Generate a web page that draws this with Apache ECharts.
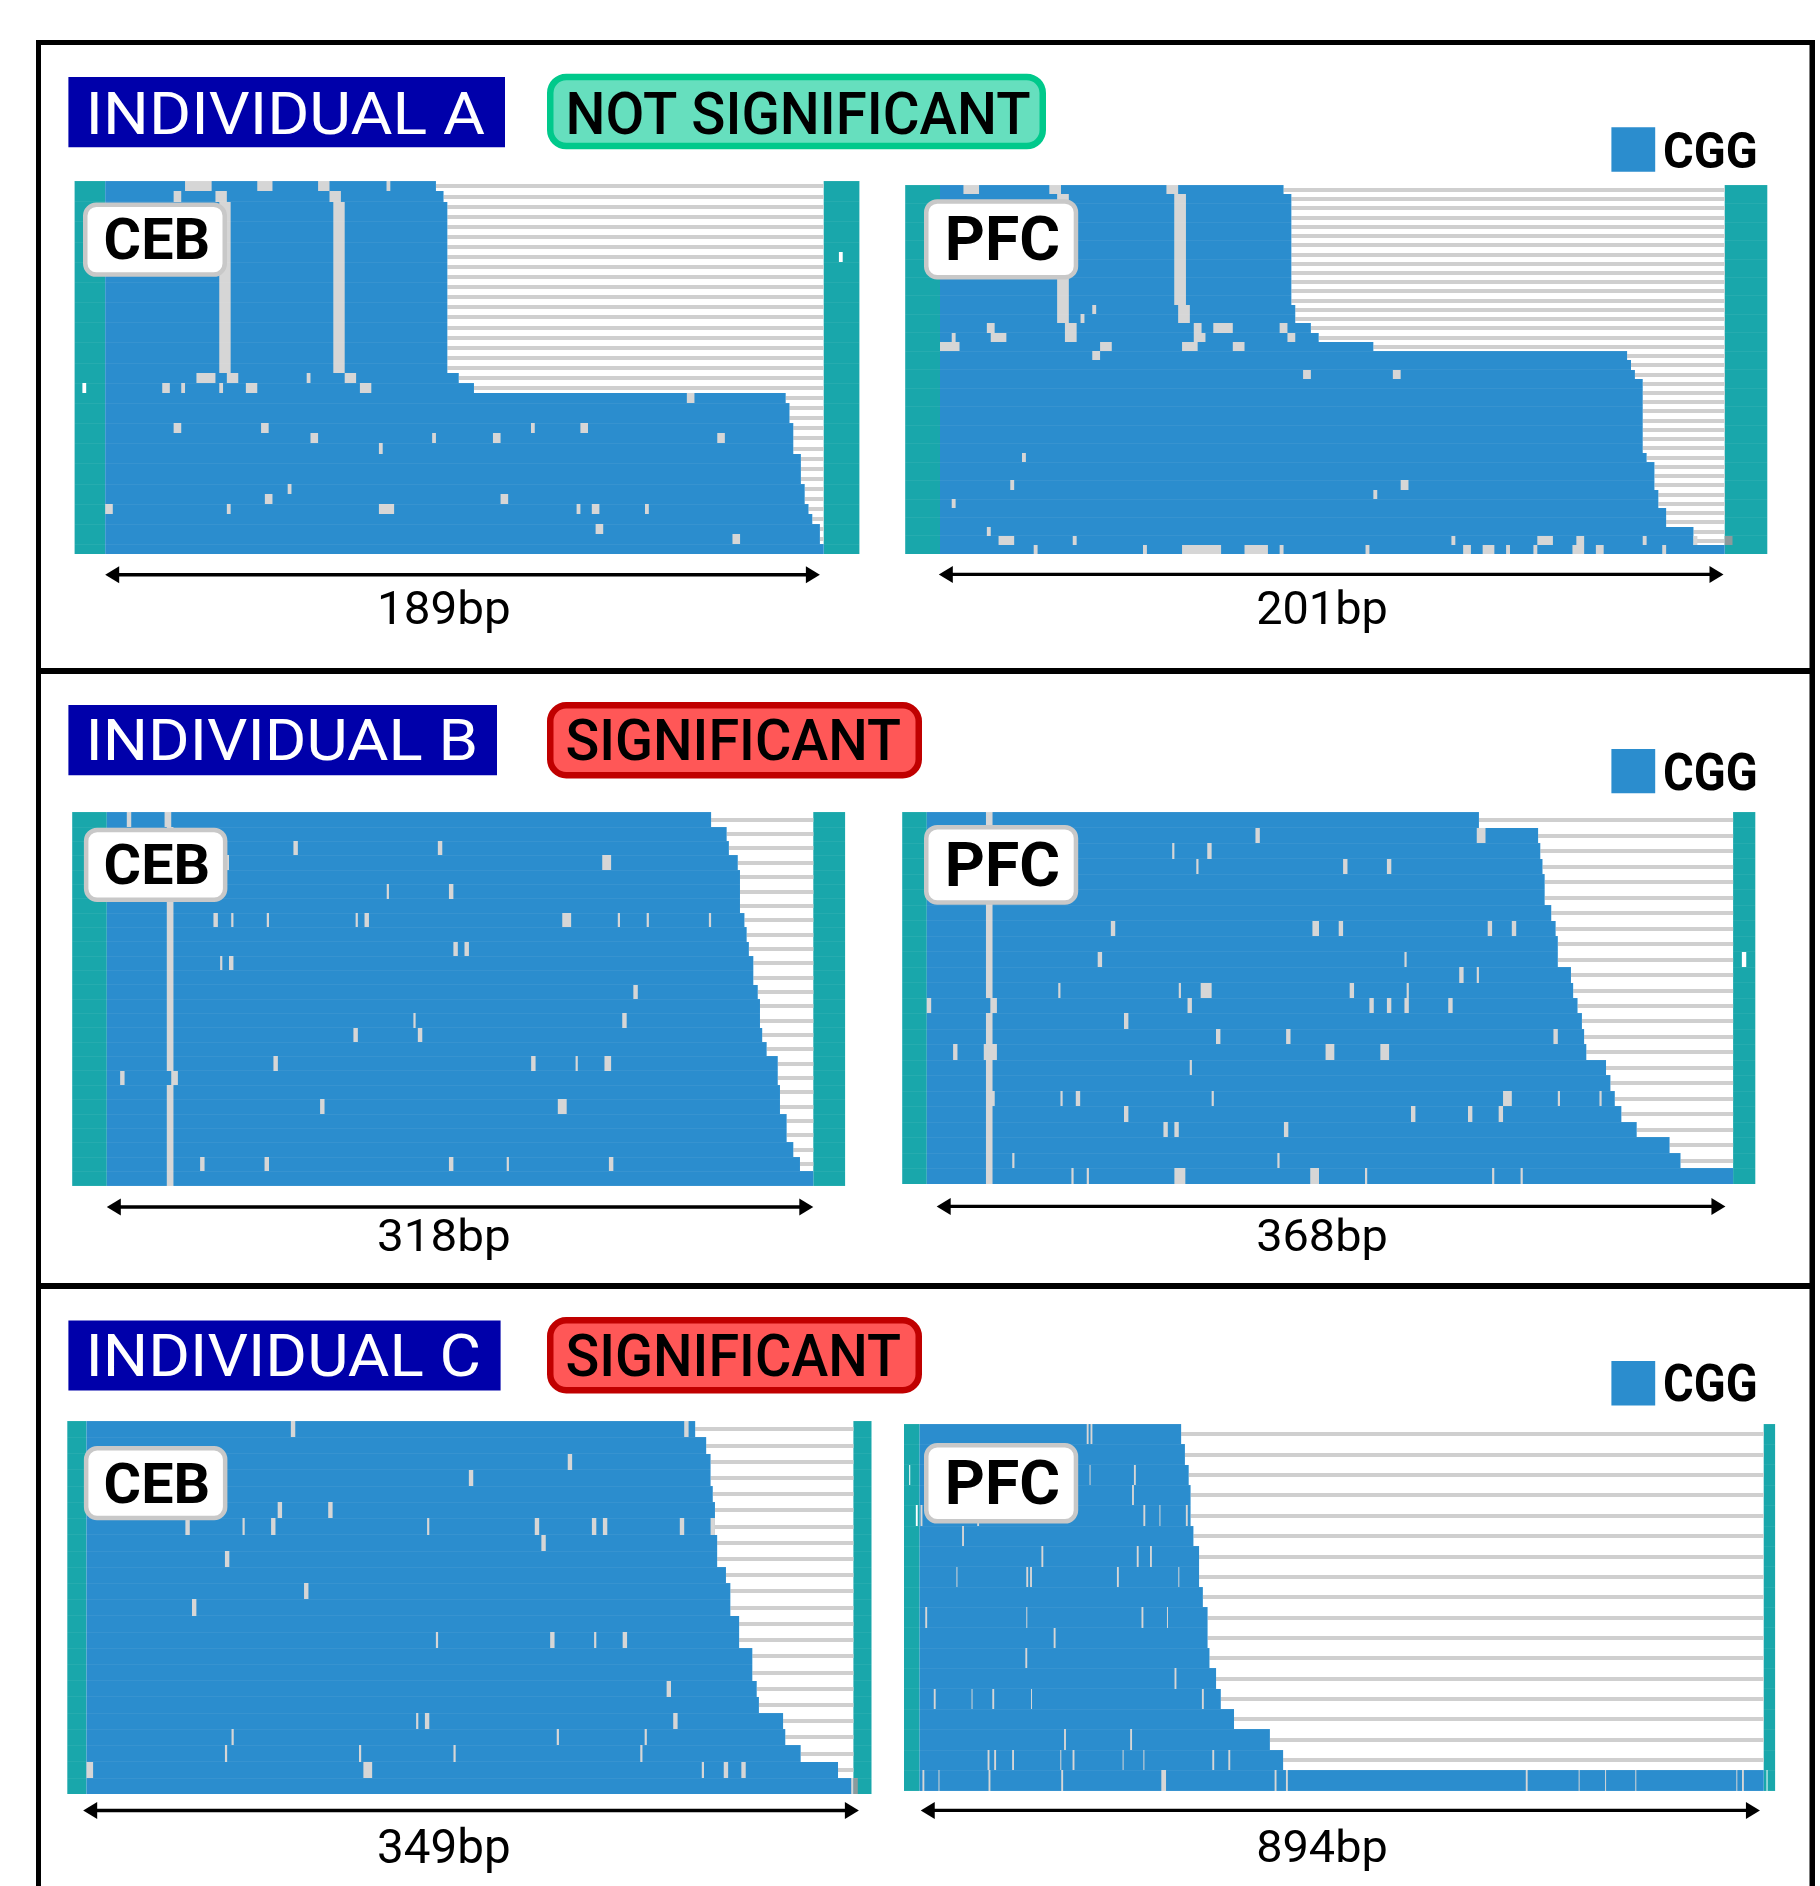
<!DOCTYPE html>
<html>
<head>
<meta charset="utf-8">
<style>html,body{margin:0;padding:0;background:#fff}#c{width:1820px;height:1886px}</style>
<script src="https://cdn.jsdelivr.net/npm/echarts@6/dist/echarts.min.js"></script>
</head>
<body>
<div id="c"></div>
<script>
// ---- read-repeat lengths, one value per read row (bp of CGG array) ----
const A_CEB_ends = [87,89,90,90,90,90,90,90,90,90,90,90,90,90,90,90,90,90,90,93,97,179,180,180,181,181,181,183,183,183,184,184,185,186,188,188,189];
const A_PFC_ends = [88,90,90,90,90,90,90,90,90,90,90,90,90,91,91,95,97,111,176,177,178,180,180,180,180,180,180,180,180,181,183,183,183,184,184,186,186,193,193,201];
const B_CEB_ends = [272,279,280,284,285,285,285,287,288,289,291,291,293,294,294,295,297,302,302,303,303,306,306,309,312,318];
const B_PFC_ends = [252,279,280,281,282,282,285,287,288,288,294,295,297,299,300,301,310,312,314,317,324,339,344,368];
const C_CEB_ends = [277,282,284,284,285,286,286,287,287,291,293,293,297,297,303,303,305,306,317,318,325,342,349];
const C_PFC_ends = [277,281,285,287,287,290,296,296,300,305,305,307,314,319,333,371,385,894];

// ---- total reference lengths (bp) and their labels ----
const repeatLengths = [189,201,318,368,349,894];
const lengthLabels = ['189bp','201bp','318bp','368bp','349bp','894bp'];
const headers = ['INDIVIDUAL A','INDIVIDUAL B','INDIVIDUAL C'];
const verdicts = ['NOT SIGNIFICANT','SIGNIFICANT','SIGNIFICANT'];
const tissues = ['CEB','PFC'];
const legendName = 'CGG';

// ---- interruptions: [row, start bp, length bp, kind] kind 0 grey, 1 white, 2 dark ----
const A_CEB_gaps = [
[0,21,7],[0,40,4],[0,56,3],[0,74,1],[1,18,2],[1,29,3],[1,59,3],
[2,30,3],[3,30,3],[4,30,3],[5,30,3],[6,30,3],[7,30,3],[8,30,3],[9,30,3],[10,30,3],[11,30,3],[12,30,3],[13,30,3],[14,30,3],[15,30,3],[16,30,3],[17,30,3],[18,30,3],
[2,60,3],[3,60,3],[4,60,3],[5,60,3],[6,60,3],[7,60,3],[8,60,3],[9,60,3],[10,60,3],[11,60,3],[12,60,3],[13,60,3],[14,60,3],[15,60,3],[16,60,3],[17,60,3],[18,60,3],
[19,24,5],[19,32,3],[19,53,1],[19,63,3],[20,15,2],[20,20,1],[20,30,1],[20,37,3],[20,67,3],[20,-6,1,1],[7,193,1,1],
[21,153,2],[24,18,2],[24,41,2],[24,112,1],[24,125,2],[25,54,2],[25,86,1],[25,102,2],[25,161,2],[26,72,1],
[30,48,1],[31,42,2],[31,104,2],[32,0,2],[32,32,1],[32,72,4],[32,124,1],[32,128,2],[32,142,1],[34,129,2],[35,165,2]];
const A_PFC_gaps = [
[0,6,4],[0,28,3],[0,58,3],
[1,30,3],[2,30,3],[3,30,3],[4,30,3],[5,30,3],[6,30,3],[7,30,3],[8,30,3],[9,30,3],[10,30,3],[11,30,3],[12,30,3],[13,30,3],[14,30,3],
[1,60,3],[2,60,3],[3,60,3],[4,60,3],[5,60,3],[6,60,3],[7,60,3],[8,60,3],[9,60,3],[10,60,3],[11,60,3],[12,60,3],[13,61,3],[14,61,3],
[13,39,1],[14,36,1],[15,12,2],[15,32,3],[15,65,2],[15,70,5],[15,87,2],[16,3,1],[16,13,4],[16,32,3],[16,65,3],[16,89,2],
[17,0,5],[17,41,3],[17,62,4],[17,75,3],[18,39,2],[20,93,2],[20,116,2],[29,21,1],[32,18,1],[32,118,2],[33,111,1],[34,3,1],[37,12,1],
[38,15,4],[38,34,1],[38,131,1],[38,153,4],[38,163,2],[38,180,1],[38,193,1],[38,201,2,2],
[39,24,1],[39,52,1],[39,62,10],[39,78,6],[39,87,1],[39,109,1],[39,134,2],[39,139,3],[39,145,1],[39,152,1],[39,162,3],[39,168,2],[39,185,1]];
const B_CEB_gaps = [
[0,9,2],[0,26,3],[1,27,3],[2,27,3],[3,27,3],[4,27,3],[5,27,3],[6,27,3],[7,27,3],[8,27,3],[9,27,3],[10,27,3],[11,27,3],[12,27,3],[13,27,3],[14,27,3],[15,27,3],[16,27,3],[17,27,3],
[18,29,3],[19,27,3],[20,27,3],[21,27,3],[22,27,3],[23,27,3],[24,27,3],[25,27,3],
[2,84,2],[2,149,2],[3,54,1],[3,223,4],[5,126,1],[5,154,2],[7,48,2],[7,56,1],[7,72,1],[7,112,1],[7,116,2],[7,205,4],[7,230,1],[7,243,1],[7,271,1],
[9,156,2],[9,161,2],[10,51,1],[10,55,2],[12,237,2],[14,138,1],[14,232,2],[15,111,2],[15,140,2],[17,75,2],[17,191,2],[17,211,1],[17,224,3],[18,6,2],
[20,96,2],[20,203,4],[24,42,2],[24,71,2],[24,154,2],[24,180,1],[24,226,2]];
const B_PFC_gaps = [
[0,27,3],[1,27,3],[2,27,3],[3,27,3],[4,27,3],[5,27,3],[6,27,3],[7,27,3],[8,27,3],[9,27,3],[10,27,3],[11,27,3],[12,29,3],[13,27,3],[14,27,3],[15,26,6],[16,27,3],[17,27,3],[18,27,4],[19,27,3],[20,27,3],[21,27,3],[22,27,3],[23,27,3],
[1,150,2],[1,251,4],[2,112,1],[2,128,2],[3,123,1],[3,190,2],[3,210,2],[7,84,2],[7,176,3],[7,188,2],[7,256,2],[7,267,2],[9,78,2],[9,218,1],[9,372,2,1],
[10,243,2],[10,251,1],[11,60,1],[11,115,1],[11,125,5],[11,193,2],[11,219,1],[12,0,2],[12,119,2],[12,202,2],[12,210,2],[12,218,2],[12,238,2],[13,90,2],
[14,132,2],[14,164,2],[14,286,2],[15,12,2],[15,182,4],[15,207,4],[16,120,1],[18,61,1],[18,68,2],[18,130,1],[18,263,4],[18,288,1],[18,307,1],
[19,90,2],[19,221,2],[19,247,2],[19,261,2],[20,108,2],[20,113,2],[20,163,2],[22,39,1],[22,160,1],[23,66,1],[23,73,1],[23,113,5],[23,175,4],[23,200,1],[23,258,1],[23,271,1]];
const C_CEB_gaps = [
[0,93,2],[0,272,2],[2,219,2],[3,174,2],[5,87,2],[5,110,2],[6,45,2],[6,71,1],[6,84,2],[6,155,1],[6,204,2],[6,230,2],[6,235,2],[6,270,2],[6,284,2],
[7,207,2],[8,63,2],[10,99,2],[11,48,2],[13,159,1],[13,211,2],[13,231,1],[13,244,2],[16,264,2],[18,150,1],[18,154,2],[18,267,2],
[19,66,1],[19,214,1],[19,254,1],[20,63,1],[20,124,1],[20,167,1],[20,252,1],[21,0,3],[21,126,4],[21,280,1],[21,290,2],[21,298,2],[22,348,1],[22,349,2,2]];
const C_PFC_gaps = [
[0,177,2],[0,181,2],[2,180,1],[2,227,2],[2,-11,1,1],[3,225,2],[4,-4,2,1],[4,1,2],[4,61,2],[4,237,2],[4,254,1],[4,282,2],[5,45,2],
[6,129,2],[6,230,2],[6,244,2],[7,39,1],[7,113,2],[7,117,2],[7,209,2],[7,274,1],[9,6,2],[9,113,1],[9,235,2],[9,262,1],[10,142,2],[11,112,2],[12,270,2],
[13,15,2],[13,55,1],[13,77,2],[13,118,1],[13,299,2],[15,153,2],[15,223,2],
[16,72,2],[16,79,2],[16,98,2],[16,149,1],[16,162,2],[16,215,1],[16,237,1],[16,310,2],[16,327,2],
[17,3,2],[17,20,1],[17,73,2],[17,150,2],[17,256,5],[17,376,2],[17,388,2],[17,642,2],[17,698,1],[17,726,1],[17,758,1],[17,865,1],[17,871,2],[17,897,1,1]];

// ---- double-headed span arrow ends (bp) ----
const arrowSpans = [[0,188],[-0.3,200.7],[0,318],[4.5,364.5],[-1.5,351.5],[1.2,890]];

const allEnds = [A_CEB_ends,A_PFC_ends,B_CEB_ends,B_PFC_ends,C_CEB_ends,C_PFC_ends];
const allGaps = [A_CEB_gaps,A_PFC_gaps,B_CEB_gaps,B_PFC_gaps,C_CEB_gaps,C_PFC_gaps];

// ---- layout, px ----
const C = {blue:'#2b8dce',teal:'#19a7ab',grey:'#d6d6d6',stripe:'#cfcfcf',dark:'#8c9a9c',navy:'#0000aa'};
const panels = [
 {top:181.4,bottom:554.3,zero:105.2,end:823.7,left:74.6,right:859.4,arrowY:574.8,band:2},
 {top:184.9,bottom:554.2,zero:940,end:1724.7,left:905.2,right:1767.3,arrowY:574.4,band:2},
 {top:812.4,bottom:1185.5,zero:106.8,end:813.3,left:72.2,right:845.1,arrowY:1207,band:1},
 {top:812.1,bottom:1183.9,zero:926.8,end:1733.1,left:902.2,right:1755.3,arrowY:1206.4,band:1},
 {top:1421.1,bottom:1794,zero:86.5,end:853.4,left:67.3,right:871.5,arrowY:1810.5,band:1},
 {top:1423.9,bottom:1790.6,zero:919.6,end:1763.7,left:904,right:1775.1,arrowY:1810.4,band:1}
];

const grids=[],xAxes=[],yAxes=[],series=[];
panels.forEach((p,i)=>{
  const n=allEnds[i].length, N=repeatLengths[i], s=(p.end-p.zero)/N;
  const xMin=(p.left-p.zero)/s, xMax=N+(p.right-p.end)/s;
  grids.push({left:p.left,top:p.top,width:p.right-p.left,height:p.bottom-p.top,show:false});
  xAxes.push({gridIndex:i,type:'value',min:xMin,max:xMax,show:false,scale:true});
  yAxes.push({gridIndex:i,type:'value',min:0,max:n,interval:p.band,inverse:true,z:6,
    axisLine:{show:false},axisTick:{show:false},axisLabel:{show:false},
    splitLine:{show:true,lineStyle:{color:'rgba(255,255,255,0.06)',width:1}}});
  series.push({type:'custom',name:'reads'+i,xAxisIndex:i,yAxisIndex:i,z:2,silent:true,clip:false,
    encode:{x:1,y:0},
    data:allEnds[i].map((e,r)=>[r,e]),
    renderItem:(params,api)=>{
      const r=api.value(0), e=api.value(1);
      const yT=Math.round(api.coord([0,r])[1]), yB=Math.round(api.coord([0,r+1])[1]);
      const x=v=>api.coord([v,0])[0];
      const rect=(a,b,t,h,c)=>({type:'rect',shape:{x:a,y:t,width:b-a,height:h},style:{fill:c}});
      const mid=(yT+yB)/2;
      const kids=[rect(x(xMin),x(0),yT,yB-yT,C.teal),rect(x(N),x(xMax),yT,yB-yT,C.teal)];
      if(e<N) kids.push(rect(x(e),x(N),Math.round(mid-2),4,C.stripe));
      kids.push(rect(x(0),x(e),yT,yB-yT,C.blue));
      return {type:'group',children:kids};
    }});
  series.push({type:'custom',name:'gaps'+i,xAxisIndex:i,yAxisIndex:i,z:3,silent:true,clip:false,
    encode:{x:1,y:0},
    data:allGaps[i].map(g=>[g[0],g[1],g[2],g[3]||0]),
    renderItem:(params,api)=>{
      const r=api.value(0), st=api.value(1), len=api.value(2), k=api.value(3);
      const yT=Math.round(api.coord([0,r])[1]), yB=Math.round(api.coord([0,r+1])[1]);
      const a=api.coord([st,0])[0], b=api.coord([st+len,0])[0];
      return {type:'rect',shape:{x:a,y:yT,width:Math.max(b-a,1),height:yB-yT},
        style:{fill:k===1?'#ffffff':k===2?C.dark:C.grey}};
    }});
  series.push({type:'custom',name:'arrow'+i,xAxisIndex:i,yAxisIndex:i,z:3,silent:true,clip:false,
    encode:{x:[0,1]},
    data:[arrowSpans[i]],
    renderItem:(params,api)=>{
      const a=api.coord([api.value(0),0])[0], b=api.coord([api.value(1),0])[0], y=p.arrowY;
      return {type:'group',children:[
        {type:'rect',shape:{x:a+8,y:y-1.7,width:b-a-16,height:3.4},style:{fill:'#000'}},
        {type:'polygon',shape:{points:[[a,y],[a+14,y-8.5],[a+14,y+8.5]]},style:{fill:'#000'}},
        {type:'polygon',shape:{points:[[b,y],[b-14,y-8.5],[b-14,y+8.5]]},style:{fill:'#000'}}
      ]};
    }});
});

// ---- annotations ----
const measure=document.createElement('canvas').getContext('2d');
function txt(text,left,right,capTop,capBase,weight,fill,family){
  const size=(capBase-capTop)/0.711, font=weight+' '+size.toFixed(1)+'px '+(family||'Roboto');
  measure.font=font;
  const sx=(right-left)/measure.measureText(text).width;
  return {type:'text',z:50,x:left,y:(capTop+capBase)/2+5.5,scaleX:sx,silent:true,
    style:{text,font,fill,align:'left',verticalAlign:'middle'}};
}
function box(x0,y0,x1,y1,fill,stroke,lw,r){
  lw=lw||0;
  const o={type:'rect',z:40,silent:true,shape:{x:x0+lw/2,y:y0+lw/2,width:x1-x0-lw,height:y1-y0-lw,r:r||0},style:{fill}};
  if(stroke){o.style.stroke=stroke;o.style.lineWidth=lw;}
  return o;
}
const g=[];
// frame
[[36,40,5,1846],[1809.5,40,5.5,1846],[36,40,1779,5],[36,668,1779,6],[36,1283,1779,6]].forEach(f=>
  g.push({type:'rect',z:30,silent:true,shape:{x:f[0],y:f[1],width:f[2],height:f[3]},style:{fill:'#000'}}));
// headers
const hdrBoxes=[[68.4,77,505,147.3,85.5,485,92.2,134.4],[68.4,705,497,775.3,85.5,478,720,761],[68.4,1320.6,500.6,1390.4,85.5,481,1335.5,1377]];
const vBoxes=[[547,73.7,1046,149.3,565.5,1030.5],[547,702,922,778.4,565.5,901],[547,1317,922,1393.4,565.5,901]];
const vCol=[['#66dfbe','#00c98b'],['#ff5757','#c00000'],['#ff5757','#c00000']];
headers.forEach((h,i)=>{
  const b=hdrBoxes[i], v=vBoxes[i];
  g.push(box(b[0],b[1],b[2],b[3],C.navy));
  g.push(txt(h,b[4],b[5],b[6],b[7],'400','#fff'));
  g.push(box(v[0],v[1],v[2],v[3],vCol[i][0],vCol[i][1],6.5,16));
  g.push(txt(verdicts[i],v[4],v[5],b[6],b[7],'500','#000'));
});
// legend
[[127.3,171.7,132,167.8],[749,793.2,752.9,789.6],[1361,1405.5,1364.4,1401]].forEach(l=>{
  g.push(box(1611.4,l[0],1655.2,l[1],C.blue));
  g.push(txt(legendName,1663,1757.7,l[2],l[3],'700','#000'));
});
// tissue labels
const tissueBoxes=[
 [83,202.5,227,276.8,103.6,210.1,218.3,259.3,0],[924,199.2,1078.2,279.5,944.7,1060,217.6,260.4,1],
 [83.9,827.7,227.4,902,103.6,210.1,845.3,884.7,0],[924,824.9,1078.2,904.7,944.7,1060,843,886.8,1],
 [83.9,1446.1,227.4,1520.2,103.6,210.1,1463.3,1502.9,0],[924,1443,1078.2,1523.6,944.7,1060,1461,1504.7,1]];
tissueBoxes.forEach(t=>{
  g.push(box(t[0],t[1],t[2],t[3],'#fff','#c8c8c8',4.5,11));
  g.push(txt(tissues[t[8]],t[4],t[5],t[6],t[7],'700','#000'));
});
// length labels
const lenPos=[[377,510.7,591.2,623.4],[1256.2,1387.8,591.2,623.4],[377,510.7,1218.5,1250.2],[1256.2,1387.8,1218,1250],[377,510.7,1828.8,1862.4],[1256.2,1387.8,1829,1861]];
lengthLabels.forEach((t,i)=>{const l=lenPos[i];g.push(txt(t,l[0],l[1],l[2],l[3],'400','#000'));});

const chart=echarts.init(document.getElementById('c'),null,{renderer:'canvas',width:1820,height:1886});
chart.setOption({animation:false,backgroundColor:'#fff',grid:grids,xAxis:xAxes,yAxis:yAxes,series,graphic:{elements:g}});
</script>
</body>
</html>
